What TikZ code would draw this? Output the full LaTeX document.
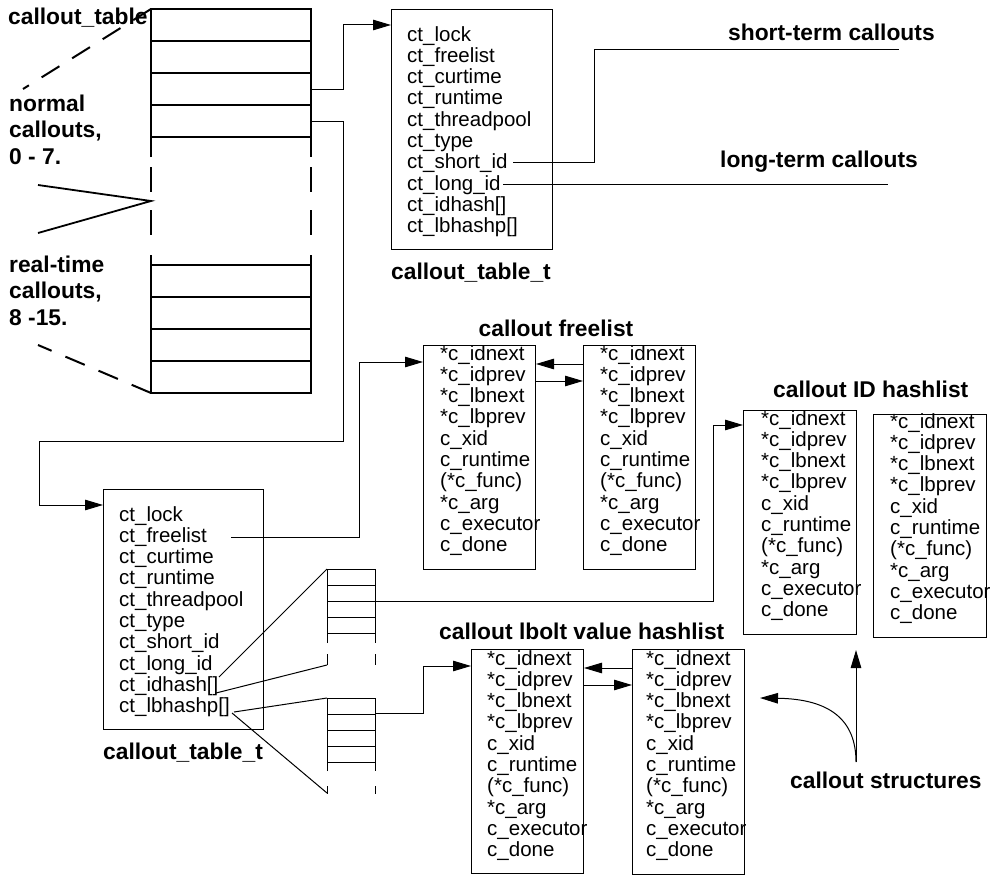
\documentclass[tikz,border=0pt]{standalone}
\usepackage{fontspec}
\setmainfont{Liberation Sans}
\usetikzlibrary{arrows.meta}
\newcommand\ctfields{ct\_lock\\ct\_freelist\\ct\_curtime\\ct\_runtime\\ct\_threadpool\\ct\_type\\ct\_short\_id\\ct\_long\_id\\ct\_idhash[]\\ct\_lbhashp[]}
\newcommand\cfields{*c\_idnext\\*c\_idprev\\*c\_lbnext\\*c\_lbprev\\c\_xid\\c\_runtime\\(*c\_func)\\*c\_arg\\c\_executor\\c\_done}
\begin{document}
\begin{tikzpicture}[x=1pt,y=-1pt,
  sbox/.style={draw, line width=1pt, inner sep=0pt, anchor=north west},
  fields/.style={font=\fontsize{20.5}{21.3}\selectfont, align=left, inner sep=0pt, anchor=north west},
  lbl/.style={font=\fontsize{22.8}{26.5}\selectfont\bfseries, inner sep=0pt, anchor=base west},
  mlbl/.style={font=\fontsize{22.8}{26.5}\selectfont\bfseries, inner sep=0pt, anchor=north west, align=left},
  ptr/.style={line width=1pt, -{Triangle[length=18pt,width=10.5pt]}},
  wire/.style={line width=1pt},
  tbl/.style={line width=1.3pt},
  tdash/.style={line width=2pt},
  dsh/.style={line width=2pt, dash pattern=on 21pt off 15pt},
]
\useasboundingbox (0,0) rectangle (996,875);

% ---------- top callout_table array ----------
\draw[tbl] (151,157) -- (151,9) -- (311,9) -- (311,157);
\foreach \y in {41,73,105,137} \draw[tbl] (151,\y) -- (311,\y);
\foreach \x in {151,311} {\draw[tdash] (\x,167) -- (\x,192) (\x,210) -- (\x,235);}
\draw[tbl] (151,255) -- (151,393) -- (311,393) -- (311,255);
\foreach \y in {265,297,329,361} \draw[tbl] (151,\y) -- (311,\y);
\coordinate (tr3) at (311,89);
\coordinate (tr4) at (311,121);
\draw[line width=1.8pt] (38,185) -- (151,201) -- (38,233);
\draw[dsh] (151,9) -- (23,89);
\draw[dsh] (151,393) -- (38,345);

% ---------- labels ----------
\node[lbl] (lTable) at (8,25) {callout\_table};
\node[mlbl] (lNormal) at (9,94.7) {normal\\callouts,\\0 - 7.};
\node[mlbl] (lRT) at (9,255.7) {real-time\\callouts,\\8 -15.};
\node[lbl, anchor=base] (lCtA) at (471,279) {callout\_table\_t};
\node[lbl] (lCtB) at (103,759) {callout\_table\_t};
\node[lbl] (lShort) at (728,41) {short-term callouts};
\node[lbl] (lLong) at (720,167) {long-term callouts};
\node[lbl, anchor=base] (lFree) at (556,336) {callout freelist};
\node[lbl] (lID) at (773,397) {callout ID hashlist};
\node[lbl] (lLb) at (439,639) {callout lbolt value hashlist};
\node[lbl] (lCS) at (790,788) {callout structures};

% ---------- callout_table_t boxes ----------
\node[sbox, minimum width=161pt, minimum height=240pt] (ctA) at (391,9) {};
\node[fields] (ctAt) at (407,26) {\ctfields};
\node[sbox, minimum width=160pt, minimum height=240pt] (ctB) at (103,489) {};
\node[fields] (ctBt) at (119,506) {\ctfields};

% ---------- callout structure boxes ----------
\node[sbox, minimum width=112pt, minimum height=224pt] (fl1) at (423,345) {};
\node[fields] (fl1t) at (440,345) {\cfields};
\node[sbox, minimum width=112pt, minimum height=224pt] (fl2) at (583,345) {};
\node[fields] (fl2t) at (600,345) {\cfields};
\node[sbox, minimum width=113pt, minimum height=224pt] (id1) at (743,410) {};
\node[fields] (id1t) at (761,410) {\cfields};
\node[sbox, minimum width=113pt, minimum height=223pt] (id2) at (873,414) {};
\node[fields] (id2t) at (890,413) {\cfields};
\node[sbox, minimum width=112pt, minimum height=224pt] (lb1) at (471,649) {};
\node[fields] (lb1t) at (487,650) {\cfields};
\node[sbox, minimum width=112pt, minimum height=225pt] (lb2) at (632,649) {};
\node[fields] (lb2t) at (646,650) {\cfields};

% ---------- small hash arrays ----------
\draw[wire] (327,643) -- (327,569) -- (375,569) -- (375,643);
\foreach \y in {585,601,617,633} \draw[wire] (327,\y) -- (375,\y);
\draw[wire] (327,654) -- (327,665) (375,654) -- (375,665);
\draw[wire] (327,771) -- (327,698) -- (375,698) -- (375,771);
\foreach \y in {714,730,746,762} \draw[wire] (327,\y) -- (375,\y);
\draw[wire] (327,786) -- (327,794) (375,786) -- (375,794);
\coordinate (h1top) at (327,569);
\coordinate (h1bot) at (327,665);
\coordinate (h2top) at (327,698);
\coordinate (h2bot) at (327,793);
\coordinate (h1row) at (375,601);
\coordinate (h2row) at (375,713);

% fan-out lines from ct_idhash[] and ct_lbhashp[]
\draw[wire] (219,677) -- (h1top);
\draw[wire] (216,693) -- (h1bot);
\draw[wire] (234,712) -- (h2top);
\draw[wire] (232,713) -- (h2bot);

% ---------- connectors ----------
\draw[ptr] (tr3) -- (343,89) |- (ctA.west |- 0,25);
\draw[ptr] (tr4) -- (343,121) -- (343,441) -- (39,441) |- (ctB.west |- 0,505);
\coordinate (sid) at (513,162);
\coordinate (lid) at (503,184);
\coordinate (sEnd) at (899,50);
\coordinate (lEnd) at (888,184);
\draw[wire] (sid) -- (594,162) |- (sEnd);
\draw[wire] (lid) -- (lEnd);
\coordinate (frl) at (231,537);
\draw[ptr] (frl) -- (359,537) |- (fl1.west |- 0,362);
\draw[ptr] (h1row) -- (713,601) |- (id1.west |- 0,425);
\draw[ptr] (h2row) -- (423,713) |- (lb1.west |- 0,666);
\draw[ptr] (fl2.west |- 0,364) -- (fl1.east |- 0,364);
\draw[ptr] (fl1.east |- 0,381) -- (fl2.west |- 0,381);
\draw[ptr] (lb2.west |- 0,668) -- (lb1.east |- 0,668);
\draw[ptr] (lb1.east |- 0,685) -- (lb2.west |- 0,685);

% callout structures arrows
\coordinate (cs) at (856,762);
\coordinate (csUp) at (856,650);
\coordinate (csLeft) at (760,698);
\draw[ptr] (cs) -- (csUp);
\draw[ptr] (cs) .. controls (856,720) and (830,699) .. (csLeft);
\end{tikzpicture}
\end{document}
